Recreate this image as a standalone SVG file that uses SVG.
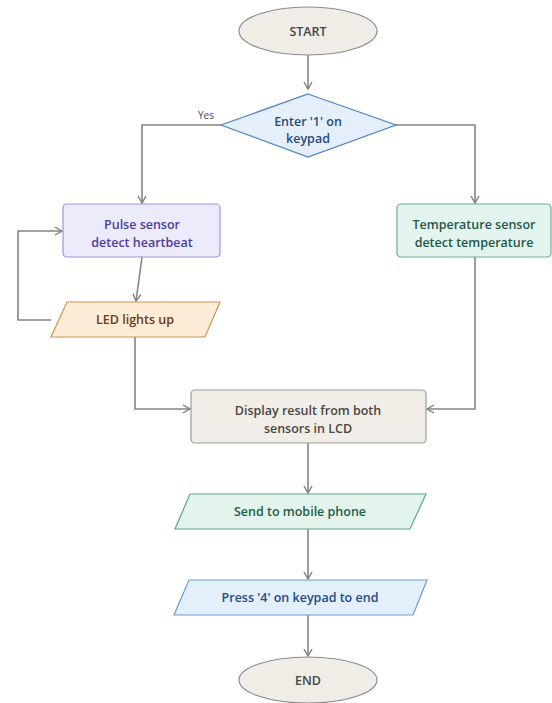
<svg xmlns="http://www.w3.org/2000/svg" width="552" height="703" viewBox="0 0 552 703">
<defs>
<marker id="arr" markerWidth="10" markerHeight="10" refX="8" refY="5" orient="auto" markerUnits="userSpaceOnUse">
<path d="M1,1 L8,5 L1,9" fill="none" stroke="#7f7f7f" stroke-width="1.4"/>
</marker>
</defs>
<style>
text{font-family:"Open Sans","Noto Sans","Liberation Sans",sans-serif;font-size:12.5px;font-weight:600;text-anchor:middle}
.c{fill:none;stroke:#858585;stroke-width:1.6}
</style>
<rect width="552" height="703" fill="#ffffff"/>
<g id="connectors">
<path class="c" d="M308,55 L308,89" marker-end="url(#arr)"/>
<path class="c" d="M221,125 L142,125 L142,203" marker-end="url(#arr)"/>
<path class="c" d="M396,125 L475,125 L475,203" marker-end="url(#arr)"/>
<path class="c" d="M142,257 L136,301" marker-end="url(#arr)"/>
<path class="c" d="M51,320 L18,320 L18,231 L62,231" marker-end="url(#arr)"/>
<path class="c" d="M135,337 L135,409 L190,409" marker-end="url(#arr)"/>
<path class="c" d="M475,257 L475,409 L427,409" marker-end="url(#arr)"/>
<path class="c" d="M308,443 L308,493" marker-end="url(#arr)"/>
<path class="c" d="M308,529 L308,579" marker-end="url(#arr)"/>
<path class="c" d="M308,615 L308,656" marker-end="url(#arr)"/>
<text x="206" y="119" style="font-size:10px;font-weight:400;fill:#444">Yes</text>
</g>
<g id="start">
<ellipse cx="308" cy="31" rx="69" ry="24" fill="#efede6" stroke="#8c8c8c" stroke-width="1.2"/>
<text x="308" y="36" fill="#464646">START</text>
</g>
<g id="decision">
<polygon points="308,94 396,125 308,157 221,125" fill="#e4effb" stroke="#4f84c4" stroke-width="1.2"/>
<text x="308" y="126" fill="#234d7c">Enter '1' on</text>
<text x="308" y="143" fill="#234d7c">keypad</text>
</g>
<g id="pulse">
<rect x="63" y="204" width="157" height="53" rx="4" fill="#ecebfc" stroke="#9c97e2" stroke-width="1.2"/>
<text x="142" y="229" fill="#4b3f9c">Pulse sensor</text>
<text x="142" y="247" fill="#4b3f9c">detect heartbeat</text>
</g>
<g id="temperature">
<rect x="397" y="204" width="154" height="53" rx="4" fill="#e3f4ee" stroke="#6fae95" stroke-width="1.2"/>
<text x="474" y="229" fill="#25574a">Temperature sensor</text>
<text x="474" y="247" fill="#25574a">detect temperature</text>
</g>
<g id="led">
<polygon points="67,302 220,302 205,337 51,337" fill="#fcebd5" stroke="#c99658" stroke-width="1.2"/>
<text x="135" y="324" fill="#6a3c12">LED lights up</text>
</g>
<g id="display">
<rect x="191" y="390" width="235" height="53" rx="4" fill="#f1eee8" stroke="#a09b93" stroke-width="1.2"/>
<text x="308" y="415" fill="#4a4542">Display result from both</text>
<text x="308" y="433" fill="#4a4542">sensors in LCD</text>
</g>
<g id="send">
<polygon points="190,494 426,494 410,529 175,529" fill="#e2f4ec" stroke="#5da788" stroke-width="1.2"/>
<text x="300" y="516" fill="#1f5e4a">Send to mobile phone</text>
</g>
<g id="press">
<polygon points="189,580 427,580 413,615 174,615" fill="#e3effb" stroke="#6b9bd2" stroke-width="1.2"/>
<text x="300" y="602" fill="#274b80">Press '4' on keypad to end</text>
</g>
<g id="end">
<ellipse cx="308" cy="680" rx="69" ry="23" fill="#efede6" stroke="#8c8c8c" stroke-width="1.2"/>
<text x="308" y="685" fill="#464646">END</text>
</g>
</svg>
